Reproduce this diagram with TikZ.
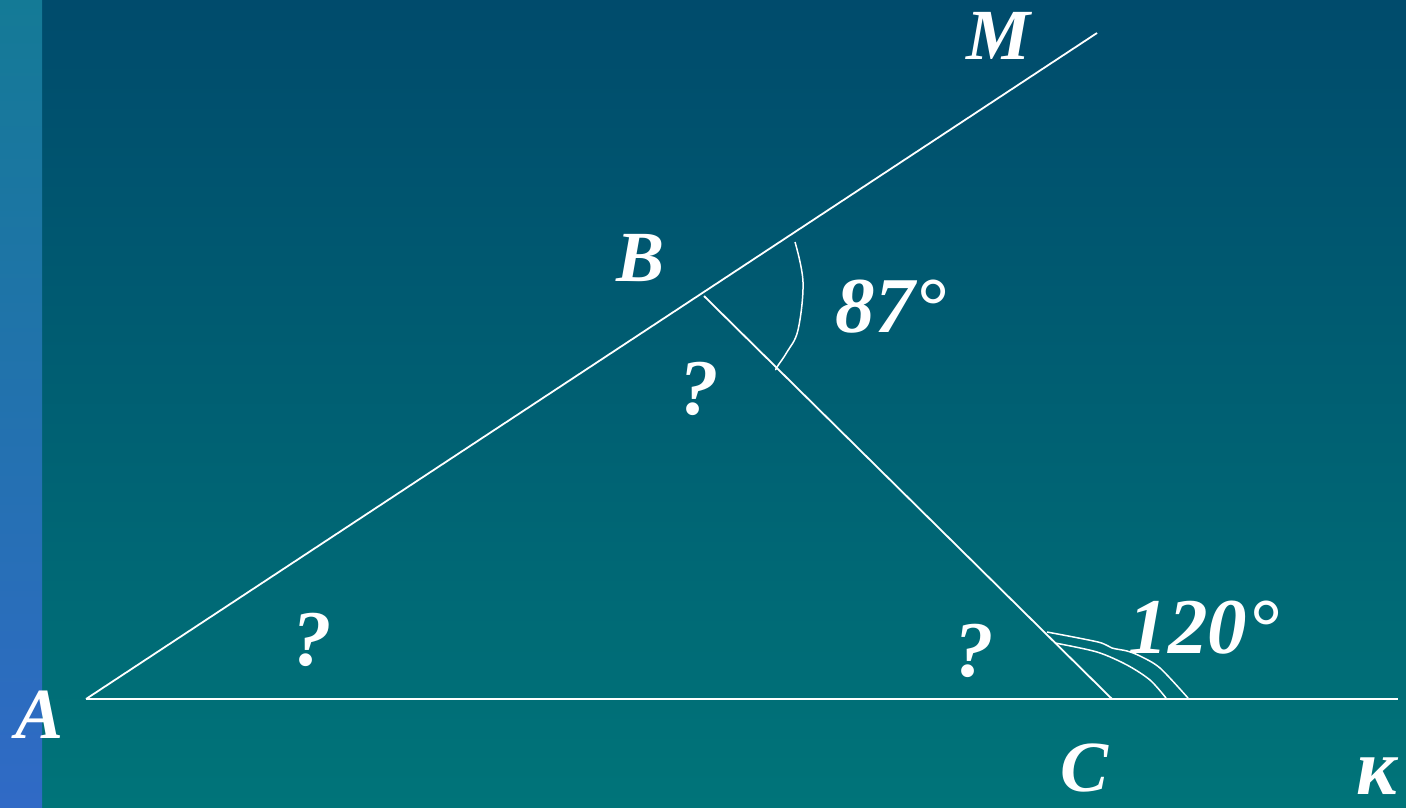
\documentclass[tikz,border=0pt]{standalone}
\usepackage{fontspec}
\setmainfont{Liberation Serif}
\begin{document}
\begin{tikzpicture}[x=1pt,y=-1pt,
  ln/.style={draw=white,line width=1.8pt},
  arcln/.style={draw=white,line width=1.5pt},
  lbl/.style={text=white,inner sep=0pt,font=\fontsize{72}{72}\selectfont\bfseries\itshape},
  num/.style={text=white,inner sep=0pt,font=\fontsize{79}{79}\selectfont\bfseries\itshape}]
\definecolor{bgtop}{RGB}{0,75,108}
\definecolor{bgbot}{RGB}{0,116,121}
\definecolor{strtop}{RGB}{20,122,150}
\definecolor{strbot}{RGB}{48,106,198}
\useasboundingbox (0,0) rectangle (1406,807);
\shade[top color=bgtop,bottom color=bgbot] (0,0) rectangle (1406,807);
\shade[top color=strtop,bottom color=strbot] (0,0) rectangle (42,807);
% points
\coordinate (A) at (86,699);
\coordinate (Mend) at (1097,33);
\coordinate (B) at (704,296);
\coordinate (C) at (1112,699);
\coordinate (K) at (1398,699);
% lines
\draw[ln] (A) -- (Mend);
\draw[ln] (A) -- (K);
\draw[ln] (B) -- (C);
% 87 arc
\draw[arcln] plot[smooth,tension=0.6] coordinates {(795,242) (803,282) (798,330) (787,352) (777,367) (776,370)};
% 120 arcs
\draw[arcln] plot[smooth,tension=0.5] coordinates {(1047,632) (1098,642) (1112,648) (1127,651) (1140,656) (1160,668) (1188,698)};
\draw[arcln] plot[smooth,tension=0.5] coordinates {(1055,643) (1097,652) (1127,665) (1150,680) (1166,698)};
% labels
\node[lbl] (lA) at (40,715) {A};
\node[lbl] (lB) at (641,258) {B};
\node[lbl] (lM) at (998,36) {M};
\node[lbl] (lC) at (1084,768) {C};
\node[lbl,font=\fontsize{80}{80}\selectfont\bfseries\itshape] (lK) at (1377,776) {к};
\node[num] (a87) at (891,307) {87°};
\node[num] (a120) at (1204,628) {120°};
\node[num] (q1) at (699,389) {?};
\node[num] (q2) at (312,640) {?};
\node[num] (q3) at (974,651) {?};
\end{tikzpicture}
\end{document}
